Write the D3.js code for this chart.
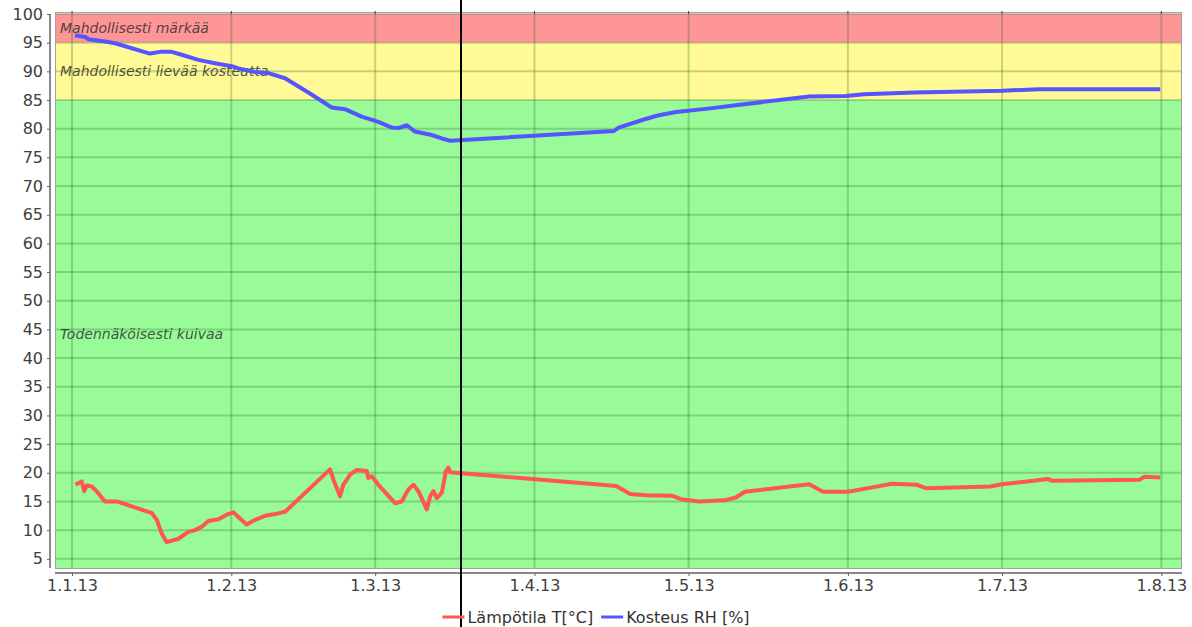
<!DOCTYPE html>
<html>
<head>
<meta charset="utf-8">
<script src="https://cdn.jsdelivr.net/npm/d3@7/dist/d3.min.js"></script>
<style>
body { margin: 0; background: #fff; }
text { font-family: "DejaVu Sans", sans-serif; }
</style>
</head>
<body>
<svg id="chart" width="1192" height="627"></svg>
<script>
// temperature series (T, °C)
var tempDates = ["2013-01-01 17:00", "2013-01-02 21:00", "2013-01-03 09:00", "2013-01-03 21:00", "2013-01-04 20:00",
    "2013-01-05 19:00", "2013-01-07 10:00", "2013-01-09 17:00", "2013-01-15 20:00", "2013-01-16 12:00",
    "2013-01-17 12:00", "2013-01-18 11:00", "2013-01-19 10:00", "2013-01-21 17:00", "2013-01-23 15:00",
    "2013-01-24 23:00", "2013-01-26 06:00", "2013-01-27 13:00", "2013-01-29 12:00", "2013-01-31 10:00",
    "2013-02-01 10:00", "2013-02-02 09:00", "2013-02-04 00:00", "2013-02-05 15:00", "2013-02-07 14:00",
    "2013-02-09 12:00", "2013-02-11 11:00", "2013-02-20 05:00", "2013-02-20 21:00", "2013-02-22 04:00",
    "2013-02-22 19:00", "2013-02-24 03:00", "2013-02-25 10:00", "2013-02-27 09:00", "2013-02-27 16:00",
    "2013-02-28 08:00", "2013-03-01 15:00", "2013-03-04 21:00", "2013-03-06 04:00", "2013-03-07 11:00",
    "2013-03-08 11:00", "2013-03-09 10:00", "2013-03-11 01:00", "2013-03-11 17:00", "2013-03-12 08:00",
    "2013-03-13 00:00", "2013-03-13 23:00", "2013-03-14 11:00", "2013-03-14 18:00", "2013-03-15 06:00",
    "2013-03-15 14:00", "2013-04-16 22:00", "2013-04-19 15:00", "2013-04-22 18:00", "2013-04-27 17:00",
    "2013-04-29 12:00", "2013-05-03 01:00", "2013-05-07 23:00", "2013-05-10 04:00", "2013-05-11 23:00",
    "2013-05-24 11:00", "2013-05-27 04:00", "2013-06-01 01:00", "2013-06-06 00:00", "2013-06-09 14:00",
    "2013-06-14 12:00", "2013-06-16 06:00", "2013-06-28 18:00", "2013-07-01 00:00", "2013-07-09 23:00",
    "2013-07-10 18:00", "2013-07-27 19:00", "2013-07-28 16:00", "2013-07-31 19:00"];
var tempValues = [17.9, 18.5, 16.8, 17.8, 17.6,
    16.8, 15.0, 15.0, 13.2, 13.0,
    11.8, 9.4, 7.9, 8.5, 9.7,
    10.0, 10.6, 11.6, 11.9, 12.8,
    13.1, 12.3, 11.0, 11.8, 12.5,
    12.8, 13.2, 20.6, 18.8, 15.9,
    17.9, 19.7, 20.5, 20.3, 19.1,
    19.4, 17.9, 14.7, 15.0, 17.1,
    17.9, 16.8, 13.6, 15.9, 16.8,
    15.6, 16.5, 18.8, 20.3, 20.9,
    20.1, 17.7, 16.3, 16.1, 16.0,
    15.4, 15.0, 15.2, 15.7, 16.7,
    18.0, 16.7, 16.7, 17.5, 18.1,
    17.9, 17.3, 17.6, 18.0, 18.9,
    18.6, 18.8, 19.3, 19.2];

// humidity series (RH, %)
var rhDates = ["2013-01-01 14:00", "2013-01-03 13:00", "2013-01-04 04:00", "2013-01-07 10:00", "2013-01-09 09:00",
    "2013-01-16 04:00", "2013-01-18 03:00", "2013-01-20 10:00", "2013-01-22 08:00", "2013-01-25 14:00",
    "2013-01-28 20:00", "2013-02-01 02:00", "2013-02-02 09:00", "2013-02-05 15:00", "2013-02-08 05:00",
    "2013-02-11 11:00", "2013-02-16 00:00", "2013-02-20 13:00", "2013-02-23 03:00", "2013-02-26 09:00",
    "2013-03-01 15:00", "2013-03-04 06:00", "2013-03-05 12:00", "2013-03-07 04:00", "2013-03-08 18:00",
    "2013-03-12 00:00", "2013-03-13 23:00", "2013-03-15 14:00", "2013-04-16 11:00", "2013-04-17 09:00",
    "2013-04-22 07:00", "2013-04-25 00:00", "2013-04-28 13:00", "2013-05-04 19:00", "2013-05-10 04:00",
    "2013-05-24 11:00", "2013-05-31 15:00", "2013-06-04 04:00", "2013-06-14 00:00", "2013-07-01 00:00",
    "2013-07-08 03:00", "2013-07-31 19:00"];
var rhValues = [96.3, 96.0, 95.6, 95.2, 94.9,
    93.1, 93.4, 93.4, 92.9, 92.0,
    91.4, 90.9, 90.5, 89.9, 89.7,
    88.8, 86.3, 83.7, 83.4, 82.1,
    81.2, 80.2, 80.1, 80.6, 79.5,
    78.9, 78.3, 77.9, 79.6, 80.2,
    81.6, 82.3, 82.9, 83.5, 84.1,
    85.6, 85.7, 86.0, 86.3, 86.6,
    86.9, 86.9];

// background zones
var zoneLabels = ["Mahdollisesti märkää", "Mahdollisesti lievää kosteutta", "Todennäköisesti kuivaa"];
var zoneLower = [95, 85, 3.4];
var zoneUpper = [100, 95, 85];

var xTickDates = ["2013-01-01", "2013-02-01", "2013-03-01", "2013-04-01", "2013-05-01", "2013-06-01", "2013-07-01", "2013-08-01"];
var xTickLabels = ["1.1.13", "1.2.13", "1.3.13", "1.4.13", "1.5.13", "1.6.13", "1.7.13", "1.8.13"];
var yTicks = d3.range(5, 101, 5);

var xDomain = ["2012-12-28 16:30", "2013-08-05 00:30"];
var yDomain = [3.4, 100];
var markerDate = "2013-03-17 19:00";

var seriesNames = ["Lämpötila T[°C]", "Kosteus RH [%]"];

var zoneColors = ["#ff9696", "#fffa96", "#98fb98"];
var lineColors = ["#ff5555", "#5555ff"];

var parseTime = d3.utcParse("%Y-%m-%d %H:%M");
var parseDay = d3.utcParse("%Y-%m-%d");

var plot = {left: 55, right: 1182, top: 14, bottom: 568};

var svg = d3.select("#chart");

var x = d3.scaleUtc()
    .domain(xDomain.map(parseTime))
    .range([plot.left, plot.right]);

var y = d3.scaleLinear()
    .domain(yDomain)
    .range([plot.bottom, plot.top]);

//zones
svg.append("g").selectAll("rect")
    .data(zoneLabels)
    .join("rect")
    .attr("x", plot.left)
    .attr("width", plot.right - plot.left)
    .attr("y", function (d, i) { return y(zoneUpper[i]); })
    .attr("height", function (d, i) { return y(zoneLower[i]) - y(zoneUpper[i]); })
    .attr("fill", function (d, i) { return zoneColors[i]; });

//grid lines
var grid = svg.append("g")
    .attr("stroke", "rgba(30,90,30,0.25)")
    .attr("stroke-width", 2);
grid.selectAll("line.h")
    .data(yTicks)
    .join("line")
    .attr("class", "h")
    .attr("x1", plot.left).attr("x2", plot.right)
    .attr("y1", function (d) { return y(d); })
    .attr("y2", function (d) { return y(d); });
grid.selectAll("line.v")
    .data(xTickDates)
    .join("line")
    .attr("class", "v")
    .attr("x1", function (d) { return x(parseDay(d)); })
    .attr("x2", function (d) { return x(parseDay(d)); })
    .attr("y1", plot.top).attr("y2", plot.bottom);

//zone labels
svg.append("g").selectAll("text")
    .data(zoneLabels)
    .join("text")
    .attr("x", plot.left + 5)
    .attr("y", function (d, i) { return (y(zoneLower[i]) + y(zoneUpper[i])) / 2; })
    .attr("dominant-baseline", "central")
    .attr("font-style", "italic")
    .attr("font-size", 14)
    .attr("fill", "rgba(40,40,40,0.8)")
    .text(function (d) { return d; });

// plot outline
svg.append("rect")
    .attr("x", plot.left + 0.5).attr("y", plot.top - 1.5)
    .attr("width", plot.right - plot.left - 1).attr("height", plot.bottom - plot.top + 2)
    .attr("fill", "none")
    .attr("stroke", "#a0a0a0")
    .attr("stroke-width", 1);

//series lines
var line = d3.line()
    .x(function (d) { return x(d.date); })
    .y(function (d) { return y(d.value); });

var tempData = tempDates.map(function (d, i) { return {date: parseTime(d), value: tempValues[i]}; });
var rhData = rhDates.map(function (d, i) { return {date: parseTime(d), value: rhValues[i]}; });

[tempData, rhData].forEach(function (data, i) {
    svg.append("path")
        .datum(data)
        .attr("d", line)
        .attr("fill", "none")
        .attr("stroke", lineColors[i])
        .attr("stroke-width", 4)
        .attr("stroke-linejoin", "round");
});

//axes
var yAxis = d3.axisLeft(y)
    .tickValues(yTicks)
    .tickSize(3)
    .tickPadding(4);
var gy = svg.append("g")
    .attr("transform", "translate(" + (plot.left - 5) + ",0)")
    .call(yAxis);

var xAxis = d3.axisBottom(x)
    .tickValues(xTickDates.map(parseDay))
    .tickFormat(function (d, i) { return xTickLabels[i]; })
    .tickSize(3)
    .tickPadding(4);
var gx = svg.append("g")
    .attr("transform", "translate(0," + (plot.bottom + 5) + ")")
    .call(xAxis);

[gx, gy].forEach(function (g) {
    g.select(".domain").attr("stroke", "#606060").attr("stroke-width", 1.5);
    g.selectAll(".tick line").attr("stroke", "#606060");
    g.selectAll(".tick text")
        .attr("font-family", "DejaVu Sans, sans-serif")
        .attr("font-size", 16)
        .attr("fill", "#404040");
});
gy.select(".domain").attr("d", "M0," + y(yDomain[0]) + "V" + y(yDomain[1]));
gx.select(".domain").attr("d", "M" + plot.left + ",0H" + plot.right);

// small ticks on top edge
svg.append("g").selectAll("line")
    .data(xTickDates)
    .join("line")
    .attr("x1", function (d) { return x(parseDay(d)); })
    .attr("x2", function (d) { return x(parseDay(d)); })
    .attr("y1", plot.top - 3).attr("y2", plot.top)
    .attr("stroke", "#404040");

//marker
var mx = Math.round(x(parseTime(markerDate)));
svg.append("line")
    .attr("x1", mx).attr("x2", mx)
    .attr("y1", 0).attr("y2", 627)
    .attr("stroke", "#000")
    .attr("stroke-width", 2);

//legend
var legend = svg.append("g");
var offset = 0;
seriesNames.forEach(function (name, i) {
    var item = legend.append("g").attr("transform", "translate(" + offset + ",0)");
    item.append("line")
        .attr("x1", 0).attr("x2", 22)
        .attr("y1", 0).attr("y2", 0)
        .attr("stroke", lineColors[i])
        .attr("stroke-width", 3);
    var t = item.append("text")
        .attr("x", 25)
        .attr("y", 0)
        .attr("dominant-baseline", "central")
        .attr("font-size", 16)
        .attr("fill", "#333")
        .text(name);
    offset += 25 + t.node().getComputedTextLength() + 8;
});
legend.attr("transform", "translate(" + (596 - (offset - 8) / 2) + ",617)");
</script>
</body>
</html>
